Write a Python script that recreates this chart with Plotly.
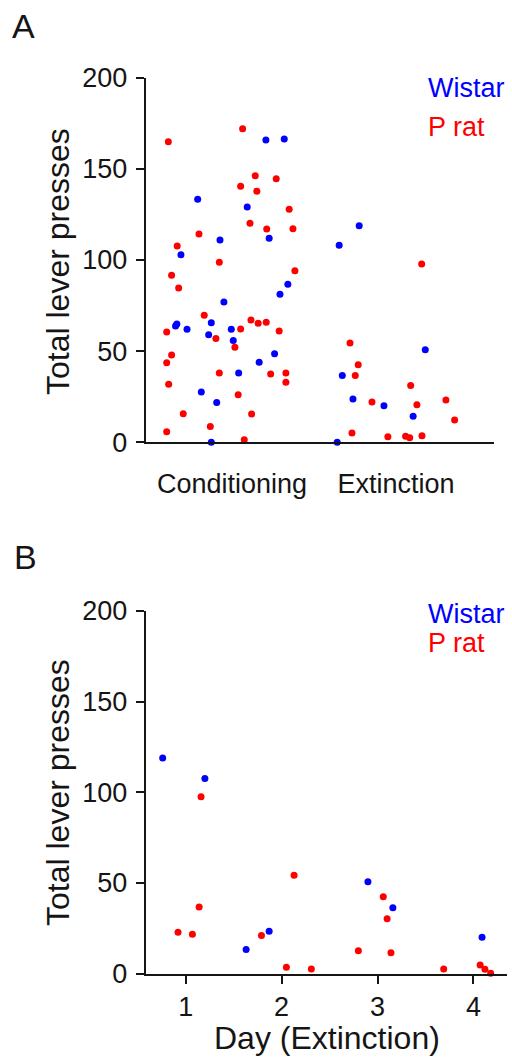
import plotly.graph_objects as go

# ---------------- data ----------------
phases = ["Conditioning", "Extinction"]

# Panel A: Wistar (blue)
A_wistar_phase = [0] * 23 + [1] * 8
A_wistar_jitter = [0.207, 0.319, -0.209, 0.093, 0.227, -0.073, -0.311, 0.341, 0.293, -0.049,
                   -0.126, -0.344, -0.336, -0.274, -0.004, -0.142, 0.008, 0.260, 0.166, 0.041,
                   -0.187, -0.093, -0.126,
                   -0.224, -0.346, 0.179, -0.327, -0.262, -0.073, 0.105, -0.358]
A_wistar_presses = [165.8, 166.4, 133.3, 129.1, 111.9, 111.0, 102.9, 86.7, 81.2, 77.0,
                    65.6, 63.8, 64.9, 62.0, 62.0, 59.0, 55.9, 48.6, 43.9, 38.0,
                    27.6, 21.9, 0.0,
                    118.8, 108.1, 50.8, 36.7, 23.7, 20.1, 14.3, 0.0]

# Panel A: P rat (red)
A_prat_phase = [0] * 38 + [1] * 14
A_prat_jitter = [-0.388, 0.065, 0.142, 0.053, 0.270, 0.152, 0.349, 0.110, 0.212, 0.372,
                 -0.201, -0.334, -0.077, 0.384, -0.368, -0.325, -0.169, 0.116, 0.160, 0.209,
                 0.053, 0.288, -0.398, -0.098, 0.018, -0.368, -0.398, -0.077, 0.236, 0.329,
                 -0.386, 0.329, 0.038, -0.297, 0.120, -0.132, -0.398, 0.075,
                 0.157, -0.280, -0.230, -0.248, 0.090, 0.305, -0.146, 0.128, 0.358, -0.268,
                 -0.049, 0.059, 0.084, 0.159]
A_prat_presses = [164.9, 172.0, 146.2, 140.4, 144.6, 137.7, 127.8, 120.1, 117.0, 117.2,
                  114.3, 107.7, 98.7, 94.1, 91.6, 84.6, 69.7, 67.1, 65.3, 65.8,
                  62.2, 61.1, 60.5, 57.0, 52.1, 47.9, 43.7, 38.0, 37.5, 38.0,
                  31.8, 32.9, 26.1, 15.7, 15.5, 8.6, 5.8, 1.4,
                  97.8, 54.5, 42.6, 36.7, 31.2, 23.2, 22.1, 20.6, 12.2, 5.1,
                  3.1, 3.3, 2.5, 3.6]

# Panel B: extinction days
B_wistar_day = [0.76, 1.20, 2.90, 3.16, 1.87, 4.09, 1.63]
B_wistar_presses = [118.9, 107.7, 50.7, 36.4, 23.4, 20.1, 13.4]
B_prat_day = [1.16, 2.13, 3.06, 1.14, 3.10, 0.92, 1.07, 1.79, 2.80, 3.14,
              2.05, 2.31, 3.69, 4.07, 4.12, 4.18]
B_prat_presses = [97.6, 54.3, 42.5, 36.8, 30.3, 22.8, 21.7, 21.0, 12.7, 11.6,
                  3.5, 2.6, 2.6, 4.8, 2.4, 0.2]

y_ticks = [0, 50, 100, 150, 200]
day_ticks = [1, 2, 3, 4]

# ---------------- figure ----------------
W, H = 512, 1057
MT, MB = 30, 30
PH = H - MT - MB
BLUE, RED = "#0000FF", "#FF0000"
INK = "#151515"
FONT = "Liberation Sans, Arial, Helvetica, sans-serif"

A_wx = [p + 1 + j for p, j in zip(A_wistar_phase, A_wistar_jitter)]
A_px = [p + 1 + j for p, j in zip(A_prat_phase, A_prat_jitter)]

fig = go.Figure()
mk = dict(size=7, line=dict(width=0))
fig.add_trace(go.Scatter(x=A_wx, y=A_wistar_presses, mode="markers", marker=dict(color=BLUE, **mk),
                         xaxis="x", yaxis="y", cliponaxis=False, showlegend=False))
fig.add_trace(go.Scatter(x=A_px, y=A_prat_presses, mode="markers", marker=dict(color=RED, **mk),
                         xaxis="x", yaxis="y", cliponaxis=False, showlegend=False))
fig.add_trace(go.Scatter(x=B_wistar_day, y=B_wistar_presses, mode="markers", marker=dict(color=BLUE, **mk),
                         xaxis="x2", yaxis="y2", cliponaxis=False, showlegend=False))
fig.add_trace(go.Scatter(x=B_prat_day, y=B_prat_presses, mode="markers", marker=dict(color=RED, **mk),
                         xaxis="x2", yaxis="y2", cliponaxis=False, showlegend=False))

def px(xp):
    return xp / W

def py(yp):
    return 1 - (yp - MT) / PH

axis_common = dict(showgrid=False, zeroline=False, showline=True, linecolor=INK, linewidth=2,
                   tickfont=dict(family=FONT, size=27, color=INK), mirror=False, automargin=False)

fig.update_layout(
    width=W, height=H,
    margin=dict(l=0, r=0, t=MT, b=MB, autoexpand=False),
    paper_bgcolor="white", plot_bgcolor="white",
    font=dict(family=FONT, color=INK),
    xaxis=dict(domain=[px(145.7), px(494.3)], range=[0.474, 2.60], anchor="y",
               tickmode="array", tickvals=[1, 2], ticktext=phases, ticks="",
               ticklabelstandoff=16, **axis_common),
    yaxis=dict(domain=[py(442.3), py(77.7)], range=[0, 200], anchor="x",
               tickmode="array", tickvals=y_ticks, ticks="outside", ticklen=8, tickwidth=2,
               tickcolor=INK, ticklabelstandoff=3, **axis_common),
    xaxis2=dict(domain=[px(145.7), px(507)], range=[0.583, 4.35], anchor="y2",
                tickmode="array", tickvals=day_ticks, ticks="outside", ticklen=8, tickwidth=2,
                tickcolor=INK, ticklabelstandoff=0, **axis_common),
    yaxis2=dict(domain=[py(973.7), py(611)], range=[0, 200], anchor="x2",
                tickmode="array", tickvals=y_ticks, ticks="outside", ticklen=8, tickwidth=2,
                tickcolor=INK, ticklabelstandoff=3, **axis_common),
)

def ann(text, x, y, size, color=INK, xanchor="center", yanchor="middle", angle=0):
    fig.add_annotation(text=text, x=px(x), y=py(y), xref="paper", yref="paper",
                       showarrow=False, xanchor=xanchor, yanchor=yanchor, textangle=angle,
                       font=dict(family=FONT, size=size, color=color))

# panel letters
ann("A", 10, 26, 34, xanchor="left")
ann("B", 12, 557, 34, xanchor="left")
# y titles
ann("Total lever presses", 58, 262, 32, angle=-90)
ann("Total lever presses", 58, 793, 32, angle=-90)
# x title panel B
ann("Day (Extinction)", 326.5, 1038, 32)
# legends
ann("Wistar", 426, 88, 27, color=BLUE, xanchor="left")
ann("P rat", 426, 127, 27, color=RED, xanchor="left")
ann("Wistar", 426, 614, 27, color=BLUE, xanchor="left")
ann("P rat", 426, 643, 27, color=RED, xanchor="left")

fig.write_html("out.html")
